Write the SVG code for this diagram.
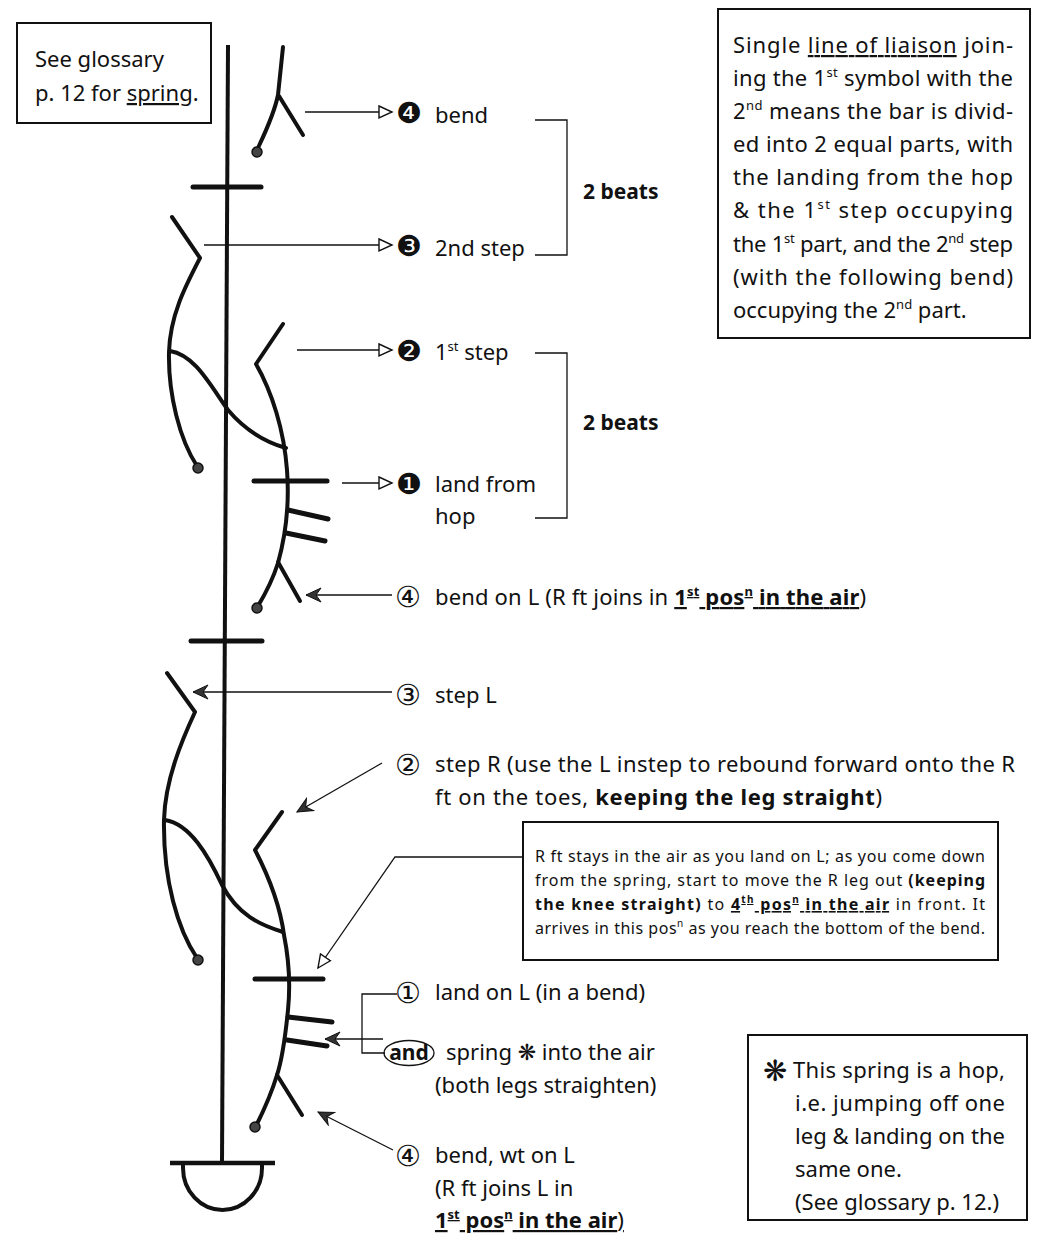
<svg xmlns="http://www.w3.org/2000/svg" width="1038" height="1248" viewBox="0 0 1038 1248">
<defs>
<style>
.t{font-family:"Noto Sans","DejaVu Sans",sans-serif;font-size:22px;fill:#111}
.s{font-size:16px}
.m{font-size:21px}
.b{font-weight:bold}
.u{text-decoration:underline}
.num{font-family:"DejaVu Sans","Noto Sans CJK SC",sans-serif;font-size:29px;fill:#111}
.sym{fill:none;stroke:#111;stroke-width:4;stroke-linecap:round;stroke-linejoin:round}
.bar{stroke:#111;stroke-width:5;stroke-linecap:round}
.con{fill:none;stroke:#111;stroke-width:1.3}
.box{fill:#fff;stroke:#111;stroke-width:2}
.dot{fill:#444;stroke:#111;stroke-width:1.5}
</style>
<marker id="open" markerUnits="userSpaceOnUse" markerWidth="16" markerHeight="16" refX="14" refY="7" orient="auto">
<path d="M1,1 L14,7 L1,13 Z" fill="#fff" stroke="#111" stroke-width="1.4"/>
</marker>
<marker id="barb" markerUnits="userSpaceOnUse" markerWidth="18" markerHeight="16" refX="16" refY="8" orient="auto">
<path d="M16,8 L1,1 L6,8 L1,15 Z" fill="#333" stroke="#111" stroke-width="1"/>
</marker>
</defs>
<rect width="1038" height="1248" fill="#fff"/>

<g id="staff">
<line x1="228" y1="45" x2="222" y2="1163" stroke="#111" stroke-width="4"/>
<line class="bar" x1="193" y1="187" x2="261" y2="187"/>
<line class="bar" x1="191" y1="641" x2="262" y2="641"/>
<line x1="170" y1="1163" x2="275" y2="1163" stroke="#111" stroke-width="4.5"/>
<path class="sym" d="M183,1164 L183,1168 A39.5,42 0 0 0 262,1168 L262,1164" stroke-width="3.5"/>
</g>

<g id="sym-top-bend">
<path class="sym" d="M257,150 C264,135 274,115 278,95 L283,47"/>
<path class="sym" d="M279,96 L303,135"/>
<circle class="dot" cx="257" cy="152" r="5"/>
</g>

<g id="sym-2nd-step">
<path class="sym" d="M172,217 L200,258 C186,285 170,315 169,352 C168,395 180,440 197,466"/>
<circle class="dot" cx="198" cy="468" r="5"/>
</g>

<g id="sym-liaison-1">
<path class="sym" d="M170,351 C195,355 210,385 228,410 C245,430 265,442 286,448" stroke-width="3.5"/>
</g>

<g id="sym-1st-step">
<path class="sym" d="M283,324 L256,364 C272,392 284,430 287,470 C290,510 283,545 278,563 C272,582 264,596 258,606"/>
<path class="sym" d="M278,562 L300,601"/>
<circle class="dot" cx="257" cy="608" r="5"/>
<line class="bar" x1="254" y1="481" x2="327" y2="481"/>
<line class="bar" x1="288" y1="510" x2="328" y2="519"/>
<line class="bar" x1="286" y1="533" x2="325" y2="541"/>
</g>

<g id="sym-step-L">
<path class="sym" d="M167,673 L195,712 C182,740 165,780 164,820 C163,880 178,930 197,958"/>
<circle class="dot" cx="198" cy="960" r="5"/>
</g>

<g id="sym-liaison-2">
<path class="sym" d="M165,820 C190,824 208,855 222,885 C238,915 260,925 283,932" stroke-width="3.5"/>
</g>

<g id="sym-step-R">
<path class="sym" d="M282,812 L255,850 C268,875 280,905 284,935 C290,965 290,990 288,1010 C285,1040 282,1060 277,1075 C271,1095 263,1112 256,1126"/>
<path class="sym" d="M277,1075 L302,1115"/>
<circle class="dot" cx="255" cy="1127" r="5"/>
<line class="bar" x1="255" y1="979" x2="323" y2="979"/>
<line class="bar" x1="288" y1="1017" x2="332" y2="1022"/>
<line class="bar" x1="287" y1="1040" x2="327" y2="1046"/>
</g>

<g id="connectors">
<line class="con" x1="305" y1="112" x2="392" y2="112" marker-end="url(#open)"/>
<line class="con" x1="204" y1="245" x2="392" y2="245" marker-end="url(#open)"/>
<line class="con" x1="297" y1="350" x2="392" y2="350" marker-end="url(#open)"/>
<line class="con" x1="342" y1="483" x2="392" y2="483" marker-end="url(#open)"/>
<line class="con" x1="392" y1="595" x2="306" y2="595" marker-end="url(#barb)"/>
<line class="con" x1="392" y1="692" x2="193" y2="692" marker-end="url(#barb)"/>
<line class="con" x1="382" y1="763" x2="297" y2="812" marker-end="url(#barb)"/>
<polyline class="con" points="537,857 395,857 318,968" marker-end="url(#open)"/>
<polyline class="con" points="397,994 362,994 362,1053 385,1053"/>
<line class="con" x1="383" y1="1039" x2="325" y2="1039" marker-end="url(#barb)"/>
<line class="con" x1="393" y1="1150" x2="318" y2="1112" marker-end="url(#barb)"/>
<polyline class="con" points="535,120 567,120 567,255 535,255"/>
<polyline class="con" points="535,353 567,353 567,518 535,518"/>
</g>

<g id="box-glossary">
<rect class="box" x="17" y="23" width="194" height="100"/>
<text class="t" x="35" y="67">See glossary</text>
<text class="t" x="35" y="101">p. 12 for <tspan class="u">spring</tspan>.</text>
</g>

<g id="box-liaison">
<rect class="box" x="718" y="9" width="312" height="329"/>
<text class="t" x="733" y="53" textLength="280" lengthAdjust="spacing">Single <tspan class="u">line of liaison</tspan> join-</text>
<text class="t" x="733" y="86" textLength="280" lengthAdjust="spacing">ing the 1<tspan font-size="13" dy="-9">st</tspan><tspan dy="9"> symbol with the</tspan></text>
<text class="t" x="733" y="119" textLength="280" lengthAdjust="spacing">2<tspan font-size="13" dy="-9">nd</tspan><tspan dy="9"> means the bar is divid-</tspan></text>
<text class="t" x="733" y="152" textLength="280" lengthAdjust="spacing">ed into 2 equal parts, with</text>
<text class="t" x="733" y="185" textLength="280" lengthAdjust="spacing">the landing from the hop</text>
<text class="t" x="733" y="218" textLength="280" lengthAdjust="spacing">&amp; the 1<tspan font-size="13" dy="-9">st</tspan><tspan dy="9"> step occupying</tspan></text>
<text class="t" x="733" y="252" textLength="280" lengthAdjust="spacing">the 1<tspan font-size="13" dy="-9">st</tspan><tspan dy="9"> part, and the 2</tspan><tspan font-size="13" dy="-9">nd</tspan><tspan dy="9"> step</tspan></text>
<text class="t" x="733" y="285" textLength="280" lengthAdjust="spacing">(with the following bend)</text>
<text class="t" x="733" y="318">occupying the 2<tspan font-size="13" dy="-9">nd</tspan><tspan dy="9"> part.</tspan></text>
</g>

<g id="label-bend-top">
<text class="num" x="396" y="123">❹</text>
<text class="t" x="435" y="123">bend</text>
</g>
<g id="label-2nd-step">
<text class="num" x="396" y="256">❸</text>
<text class="t" x="435" y="256">2nd step</text>
</g>
<g id="label-beats-1">
<text class="t b m" x="583" y="199">2 beats</text>
</g>
<g id="label-1st-step">
<text class="num" x="396" y="361">❷</text>
<text class="t" x="435" y="360">1<tspan font-size="13" dy="-9">st</tspan><tspan dy="9"> step</tspan></text>
</g>
<g id="label-land-hop">
<text class="num" x="396" y="494">❶</text>
<text class="t" x="435" y="492">land from</text>
<text class="t" x="435" y="524">hop</text>
</g>
<g id="label-beats-2">
<text class="t b m" x="583" y="430">2 beats</text>
</g>
<g id="label-bend-on-L">
<text class="num" x="395" y="607">④</text>
<text class="t" x="435" y="605" textLength="431" lengthAdjust="spacing">bend on L (R ft joins in <tspan class="b u">1<tspan font-size="13" dy="-9">st</tspan><tspan dy="9"> pos</tspan><tspan font-size="13" dy="-9">n</tspan><tspan dy="9"> in the air</tspan></tspan>)</text>
</g>
<g id="label-step-L">
<text class="num" x="395" y="705">③</text>
<text class="t" x="435" y="703">step L</text>
</g>
<g id="label-step-R">
<text class="num" x="395" y="775">②</text>
<text class="t" x="435" y="772" textLength="580" lengthAdjust="spacing">step R (use the L instep to rebound forward onto the R</text>
<text class="t" x="435" y="805" textLength="447" lengthAdjust="spacing">ft on the toes, <tspan class="b">keeping the leg straight</tspan>)</text>
</g>

<g id="box-air">
<rect class="box" x="523" y="822" width="475" height="138"/>
<text class="t s" x="535" y="862" textLength="450" lengthAdjust="spacing">R ft stays in the air as you land on L; as you come down</text>
<text class="t s" x="535" y="886" textLength="450" lengthAdjust="spacing">from the spring, start to move the R leg out <tspan class="b">(keeping</tspan></text>
<text class="t s" x="535" y="910" textLength="450" lengthAdjust="spacing"><tspan class="b">the knee straight)</tspan> to <tspan class="b u">4<tspan font-size="10" dy="-7">th</tspan><tspan dy="7"> pos</tspan><tspan font-size="10" dy="-7">n</tspan><tspan dy="7"> in the air</tspan></tspan> in front.  It</text>
<text class="t s" x="535" y="934" textLength="450" lengthAdjust="spacing">arrives in this pos<tspan font-size="10" dy="-7">n</tspan><tspan dy="7"> as you reach the bottom of the bend.</tspan></text>
</g>

<g id="label-land-on-L">
<text class="num" x="395" y="1003">①</text>
<text class="t" x="435" y="1000">land on L (in a bend)</text>
</g>
<g id="label-and-spring">
<ellipse cx="409" cy="1053" rx="25" ry="12.5" fill="none" stroke="#111" stroke-width="1.3"/>
<text class="t b m" x="409" y="1060" text-anchor="middle">and</text>
<text class="t" x="446" y="1060">spring <tspan font-family="DejaVu Sans" font-size="22">❋</tspan> into the air</text>
<text class="t" x="435" y="1093">(both legs straighten)</text>
</g>
<g id="label-bend-wt">
<text class="num" x="395" y="1166">④</text>
<text class="t" x="435" y="1163">bend, wt on L</text>
<text class="t" x="435" y="1196">(R ft joins L in</text>
<text class="t b u" x="435" y="1228">1<tspan font-size="13" dy="-9">st</tspan><tspan dy="9"> pos</tspan><tspan font-size="13" dy="-9">n</tspan><tspan dy="9"> in the air</tspan><tspan font-weight="normal" text-decoration="none">)</tspan></text>
</g>

<g id="box-hop">
<rect class="box" x="748" y="1035" width="279" height="185"/>
<text class="num" x="763" y="1081" font-size="26">❋</text>
<text class="t" x="793" y="1078" textLength="212" lengthAdjust="spacing">This spring is a hop,</text>
<text class="t" x="795" y="1111" textLength="210" lengthAdjust="spacing">i.e. jumping off one</text>
<text class="t" x="795" y="1144" textLength="210" lengthAdjust="spacing">leg &amp; landing on the</text>
<text class="t" x="795" y="1177">same one.</text>
<text class="t" x="795" y="1210">(See glossary p. 12.)</text>
</g>
</svg>
